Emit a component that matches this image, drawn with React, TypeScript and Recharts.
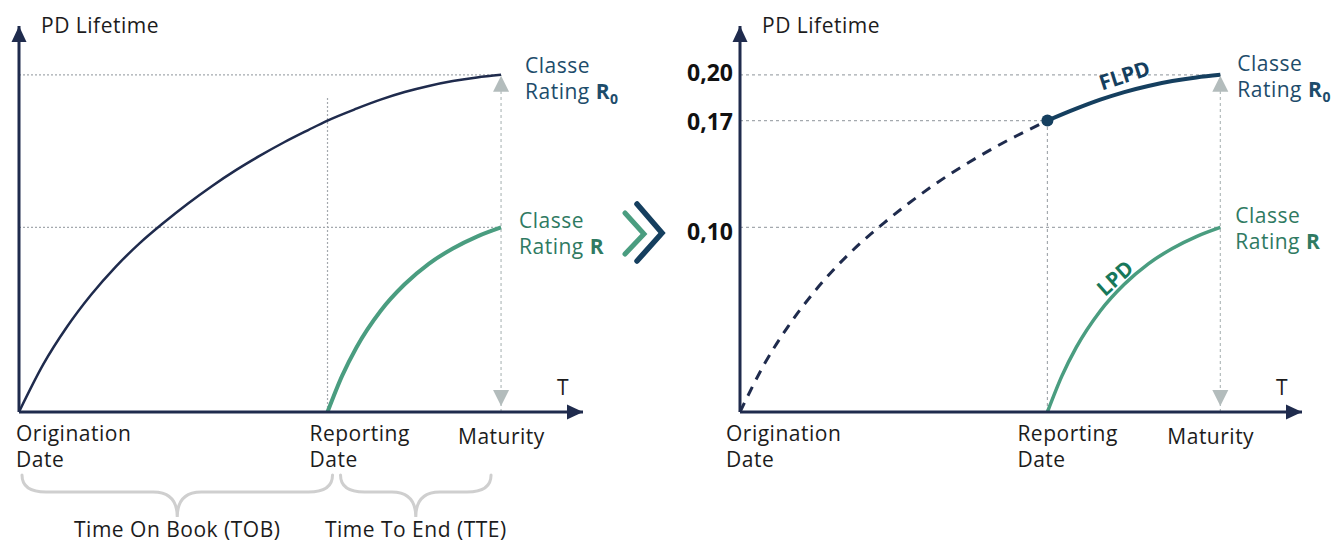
import React from "react";
import { LineChart, Line, XAxis, YAxis, ReferenceLine, ReferenceDot } from "recharts";

// time in years from origination, PD lifetime
const TIMES = [0, 0.5, 1, 1.5, 2, 2.5, 3, 3.5, 4, 4.5, 5, 5.5, 6, 6.4, 7, 7.5, 8, 8.5, 9, 9.5, 10];
const PD_R0 = [-0.021, 0.01, 0.035, 0.056, 0.074, 0.0895, 0.103, 0.1155, 0.127, 0.1375, 0.147, 0.1558, 0.1638, 0.17, 0.1778, 0.1837, 0.1887, 0.1927, 0.1959, 0.1983, 0.2];
const LPD_TIMES = [6.4, 6.7, 7, 7.5, 8, 8.5, 9, 9.5, 10];
const PD_R = [-0.021, 0.0025, 0.0213, 0.0452, 0.0627, 0.0761, 0.0862, 0.094, 0.1];

const REPORTING = 6.4;
const MATURITY = 10;
const X_TICKS = [0, 6.4, 10];
const X_TICK_LABELS = [["Origination", "Date"], ["Reporting", "Date"], ["Maturity"]];
const Y_TICKS = [0.1, 0.17, 0.2];
const PD_AT_REPORTING = 0.17;
const PD_CLASS_R0 = 0.2;
const PD_CLASS_R = 0.1;
const X_DOMAIN = [0, 11.7];
const Y_DOMAIN = [-0.021, 0.232];

const rows = Array.from(new Set([...TIMES, ...LPD_TIMES]))
  .sort((a, b) => a - b)
  .map((t) => {
    const i = TIMES.indexOf(t);
    const j = LPD_TIMES.indexOf(t);
    const r0 = i >= 0 ? PD_R0[i] : null;
    return {
      t,
      r0,
      r: j >= 0 ? PD_R[j] : null,
      past: r0 !== null && t <= REPORTING ? r0 : null,
      future: r0 !== null && t >= REPORTING ? r0 : null,
    };
  });

const FONT = "'Open Sans', 'Noto Sans', sans-serif";
const NAVY = "#1f2b4d";
const FLPD_BLUE = "#153f5f";
const GREEN = "#4a9d80";
const GREEN_TEXT = "#2f7a62";
const LPD_TEXT = "#17785a";
const R0_TEXT = "#1d4c6b";
const GUIDE = "#a4a9ae";
const GRAY_ARROW = "#b3bcbc";
const BRACE = "#cfcfcf";
const TEXT = "#1c1c1c";
const SPACING = 0.5;

function XTick(props: any) {
  const { x, y, payload, shifts } = props;
  const i = X_TICKS.indexOf(payload.value);
  if (i < 0) return null;
  const lines = X_TICK_LABELS[i];
  const tx = x + shifts[i];
  const base = y + (lines.length === 1 ? 24 : 21);
  return (
    <text x={tx} y={base} fill={TEXT} fontSize={21} fontFamily={FONT} letterSpacing={SPACING}>
      {lines.map((l, k) => (
        <tspan key={k} x={tx} dy={k === 0 ? 0 : 26}>
          {l}
        </tspan>
      ))}
    </text>
  );
}

const Y_TICK_DY = [13, 9, 6];
function YTick(props: any) {
  const { x, y, payload } = props;
  const i = Y_TICKS.indexOf(payload.value);
  return (
    <text x={x + 1} y={y + (Y_TICK_DY[i] ?? 8)} textAnchor="end" fill="#111" fontSize={23} fontWeight={700} fontFamily={FONT}>
      {payload.value.toFixed(2).replace(".", ",")}
    </text>
  );
}

function Brace(props: any) {
  const { x1, x2, y1, insetL, insetR, text } = props;
  const xa = x1 + insetL;
  const xb = x2 + insetR;
  const xc = (xa + xb) / 2;
  const y0 = y1 + 63;
  const ym = y1 + 80;
  const tip = y1 + 105;
  const r = 24;
  const d = `M${xa},${y0} Q${xa},${ym} ${xa + r},${ym} L${xc - r},${ym} Q${xc},${ym} ${xc},${tip} Q${xc},${ym} ${xc + r},${ym} L${xb - r},${ym} Q${xb},${ym} ${xb},${y0}`;
  return (
    <g>
      <path d={d} fill="none" stroke={BRACE} strokeWidth={3} strokeLinecap="round" />
      <text x={xc} y={y1 + 125} textAnchor="middle" fill={TEXT} fontSize={21} fontFamily={FONT} letterSpacing={SPACING}>
        {text}
      </text>
    </g>
  );
}

function RatingNote({ cx, cy, dx, dy, color, sub }: any) {
  return (
    <text x={cx + dx} y={cy + dy} fill={color} fontSize={21} fontFamily={FONT} letterSpacing={SPACING}>
      <tspan x={cx + dx}>Classe</tspan>
      <tspan x={cx + dx} dy={26}>
        Rating{" "}
      </tspan>
      <tspan fontWeight={700}>R</tspan>
      {sub && (
        <tspan fontWeight={700} fontSize={14} dy={5}>
          0
        </tspan>
      )}
    </text>
  );
}

function Panel({ right }: { right: boolean }) {
  const width = right ? 694 : 620;
  const yAxisW = right ? 100 : 19;
  const marginRight = right ? 32 : 37;
  const shifts = right ? [-14, -30, -53] : [-3, -18, -43];
  const dash = right ? "3 3" : "2 2";
  const guide = { stroke: GUIDE, strokeWidth: 1.2, strokeDasharray: dash };
  const base = Y_DOMAIN[0];
  const top = Y_DOMAIN[1];
  const xEnd = X_DOMAIN[1];

  return (
    <LineChart width={width} height={545} data={rows} margin={{ top: 26, right: marginRight, bottom: 73, left: 0 }}>
      <XAxis
        type="number"
        dataKey="t"
        domain={X_DOMAIN}
        ticks={X_TICKS}
        interval={0}
        height={60}
        tickLine={false}
        axisLine={{ stroke: NAVY, strokeWidth: 3 }}
        tick={<XTick shifts={shifts} />}
      />
      <YAxis
        type="number"
        domain={Y_DOMAIN}
        ticks={right ? Y_TICKS : []}
        width={yAxisW}
        tickLine={false}
        axisLine={{ stroke: NAVY, strokeWidth: 3 }}
        tick={right ? <YTick /> : false}
      />

      <ReferenceLine segment={[{ x: 0, y: PD_CLASS_R0 }, { x: MATURITY, y: PD_CLASS_R0 }]} {...guide} />
      <ReferenceLine segment={[{ x: 0, y: PD_CLASS_R }, { x: MATURITY, y: PD_CLASS_R }]} {...guide} />
      {right && (
        <ReferenceLine segment={[{ x: 0, y: PD_AT_REPORTING }, { x: REPORTING, y: PD_AT_REPORTING }]} {...guide} />
      )}
      <ReferenceLine
        segment={[{ x: REPORTING, y: base }, { x: REPORTING, y: right ? PD_AT_REPORTING : 0.185 }]}
        {...guide}
      />
      <ReferenceLine
        segment={[{ x: MATURITY, y: base }, { x: MATURITY, y: PD_CLASS_R0 }]}
        stroke={GRAY_ARROW}
        strokeWidth={1.2}
        strokeDasharray="3 3"
      />

      {!right && (
        <Line dataKey="r0" type="monotone" stroke={NAVY} strokeWidth={2.5} dot={false} connectNulls isAnimationActive={false} />
      )}
      {right && (
        <Line dataKey="past" type="monotone" stroke={NAVY} strokeWidth={3} strokeDasharray="10 8" dot={false} connectNulls isAnimationActive={false} />
      )}
      {right && (
        <Line dataKey="future" type="monotone" stroke={FLPD_BLUE} strokeWidth={4} dot={false} connectNulls isAnimationActive={false} />
      )}
      <Line dataKey="r" type="monotone" stroke={GREEN} strokeWidth={right ? 3.5 : 4} dot={false} connectNulls isAnimationActive={false} />

      {right && <ReferenceDot x={REPORTING} y={PD_AT_REPORTING} r={6} fill={FLPD_BLUE} stroke="none" />}

      {/* axis arrowheads and titles */}
      <ReferenceDot
        x={0}
        y={top}
        ifOverflow="visible"
        shape={(p: any) => (
          <g>
            <polygon points={`${p.cx},${p.cy} ${p.cx - 7.5},${p.cy + 16} ${p.cx + 7.5},${p.cy + 16}`} fill={NAVY} />
            <text x={p.cx + 22} y={p.cy + 7} fill={TEXT} fontSize={21} fontFamily={FONT} letterSpacing={SPACING}>
              PD Lifetime
            </text>
          </g>
        )}
      />
      <ReferenceDot
        x={xEnd}
        y={base}
        ifOverflow="visible"
        shape={(p: any) => (
          <g>
            <polygon points={`${p.cx},${p.cy} ${p.cx - 16},${p.cy - 7.5} ${p.cx - 16},${p.cy + 7.5}`} fill={NAVY} />
            <text x={p.cx - 26} y={p.cy - 17} fill={TEXT} fontSize={21} fontFamily={FONT}>
              T
            </text>
          </g>
        )}
      />

      {/* maturity gray arrow heads */}
      <ReferenceDot
        x={MATURITY}
        y={PD_CLASS_R0}
        shape={(p: any) => (
          <polygon points={`${p.cx},${p.cy + 1} ${p.cx - 8},${p.cy + 17} ${p.cx + 8},${p.cy + 17}`} fill={GRAY_ARROW} />
        )}
      />
      <ReferenceDot
        x={MATURITY}
        y={base}
        ifOverflow="visible"
        shape={(p: any) => (
          <polygon points={`${p.cx},${p.cy - 6} ${p.cx - 8},${p.cy - 22} ${p.cx + 8},${p.cy - 22}`} fill={GRAY_ARROW} />
        )}
      />

      {/* rating class notes */}
      <ReferenceDot
        x={MATURITY}
        y={PD_CLASS_R0}
        shape={(p: any) => <RatingNote cx={p.cx} cy={p.cy} dx={right ? 17 : 24} dy={right ? -4 : -2} color={R0_TEXT} sub />}
      />
      <ReferenceDot
        x={MATURITY}
        y={PD_CLASS_R}
        shape={(p: any) => <RatingNote cx={p.cx} cy={p.cy} dx={right ? 15 : 18} dy={right ? -4 : 1} color={GREEN_TEXT} />}
      />

      {right && (
        <ReferenceDot
          x={8}
          y={0.2}
          shape={(p: any) => (
            <text
              x={p.cx}
              y={p.cy}
              transform={`rotate(-18 ${p.cx} ${p.cy})`}
              textAnchor="middle"
              dominantBaseline="central"
              fill={FLPD_BLUE}
              fontSize={21}
              fontWeight={700}
              fontFamily={FONT}
            >
              FLPD
            </text>
          )}
        />
      )}
      {right && (
        <ReferenceDot
          x={7.8}
          y={0.067}
          shape={(p: any) => (
            <text
              x={p.cx}
              y={p.cy}
              transform={`rotate(-42 ${p.cx} ${p.cy})`}
              textAnchor="middle"
              dominantBaseline="central"
              fill={LPD_TEXT}
              fontSize={21}
              fontWeight={700}
              fontFamily={FONT}
            >
              LPD
            </text>
          )}
        />
      )}

      {!right && (
        <ReferenceLine
          segment={[{ x: 0, y: base }, { x: REPORTING, y: base }]}
          ifOverflow="visible"
          shape={(p: any) => <Brace {...p} insetL={3} insetR={5} text="Time On Book (TOB)" />}
        />
      )}
      {!right && (
        <ReferenceLine
          segment={[{ x: REPORTING, y: base }, { x: MATURITY, y: base }]}
          ifOverflow="visible"
          shape={(p: any) => <Brace {...p} insetL={13} insetR={-10} text="Time To End (TTE)" />}
        />
      )}
    </LineChart>
  );
}

export default function App() {
  return (
    <div style={{ position: "absolute", left: 0, top: 0, width: 1334, height: 545, background: "#fff", fontFamily: FONT }}>
      <div style={{ position: "absolute", left: 0, top: 0 }}>
        <Panel right={false} />
      </div>
      <div style={{ position: "absolute", left: 640, top: 0 }}>
        <Panel right />
      </div>
      <svg style={{ position: "absolute", left: 0, top: 0, pointerEvents: "none" }} width={1334} height={545}>
        <polyline points="625,213 644,234 625,254" fill="none" stroke={GREEN} strokeWidth={5} strokeLinecap="round" strokeLinejoin="miter" />
        <polyline points="637,204 662,233 637,261" fill="none" stroke={FLPD_BLUE} strokeWidth={5.5} strokeLinecap="round" strokeLinejoin="miter" />
      </svg>
    </div>
  );
}
